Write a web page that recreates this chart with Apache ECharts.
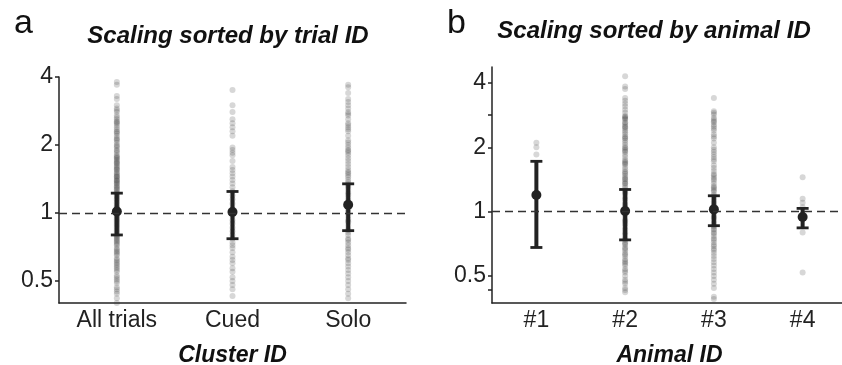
<!DOCTYPE html>
<html>
<head>
<meta charset="utf-8">
<script src="https://cdn.jsdelivr.net/npm/echarts@6/dist/echarts.min.js"></script>
<style>html,body{margin:0;padding:0;background:#fff;}#c{width:842px;height:365px;}</style>
</head>
<body>
<div id="c"></div>
<script>
// ---- Data ----
const catsA = ['All trials', 'Cued', 'Solo'];
const catsB = ['#1', '#2', '#3', '#4'];
const yTickLabels = [0.5, 1, 2, 4];

const allTrials = [3.8, 3.7, 3.3, 3.2, 3.0, 2.9, 2.8, 2.7, 2.65, 2.6, 2.55, 2.5, 2.45, 2.4, 2.35, 2.3, 2.25, 2.2, 2.15, 2.1, 2.05, 2.0, 1.95, 1.9, 1.85, 1.8, 1.78, 1.75, 1.72, 1.7, 1.68, 1.65, 1.62, 1.6, 1.58, 1.55, 1.52, 1.5, 1.48, 1.45, 1.44, 1.42, 1.4, 1.38, 1.36, 1.35, 1.33, 1.31, 1.3, 1.28, 1.25, 1.23, 1.22, 1.2, 1.18, 1.16, 1.15, 1.14, 1.12, 1.1, 1.08, 1.07, 1.06, 1.04, 1.03, 1.02, 1.0, 0.99, 0.98, 0.96, 0.95, 0.94, 0.92, 0.91, 0.9, 0.88, 0.87, 0.86, 0.85, 0.83, 0.82, 0.81, 0.8, 0.78, 0.77, 0.76, 0.75, 0.73, 0.72, 0.7, 0.69, 0.68, 0.66, 0.65, 0.63, 0.62, 0.61, 0.6, 0.58, 0.57, 0.56, 0.55, 0.53, 0.52, 0.5, 0.49, 0.47, 0.46, 0.44, 0.42, 0.4, 0.38, 0.37, 2.85, 2.52, 2.28, 2.12, 1.98, 1.88, 1.76, 1.66, 1.56, 1.46, 1.39, 1.27, 1.19, 1.11, 1.05, 1.01, 0.97, 0.93, 0.89, 0.84, 0.79, 0.74, 0.67, 0.59, 0.51, 0.45];
const cued = [3.5, 3.0, 2.8, 2.6, 2.5, 2.4, 2.3, 2.2, 1.95, 1.9, 1.85, 1.8, 1.7, 1.6, 1.55, 1.5, 1.45, 1.4, 1.35, 1.3, 1.25, 1.2, 1.15, 1.1, 1.05, 1.0, 0.97, 0.93, 0.9, 0.86, 0.83, 0.8, 0.77, 0.74, 0.72, 0.7, 0.67, 0.64, 0.62, 0.6, 0.57, 0.55, 0.52, 0.5, 0.48, 0.46, 0.43, 0.37];
const solo = [3.7, 3.6, 3.4, 3.2, 3.1, 3.0, 2.9, 2.8, 2.7, 2.6, 2.5, 2.45, 2.4, 2.3, 2.2, 2.1, 2.05, 2.0, 1.95, 1.9, 1.85, 1.8, 1.75, 1.7, 1.65, 1.6, 1.55, 1.5, 1.47, 1.44, 1.4, 1.37, 1.34, 1.3, 1.27, 1.24, 1.2, 1.17, 1.14, 1.1, 1.07, 1.04, 1.0, 0.97, 0.94, 0.91, 0.88, 0.85, 0.82, 0.8, 0.77, 0.74, 0.72, 0.7, 0.67, 0.65, 0.62, 0.6, 0.58, 0.56, 0.54, 0.52, 0.5, 0.48, 0.46, 0.44, 0.42, 0.37, 2.75, 2.35, 1.88, 1.52, 1.32, 1.22, 1.12, 1.02, 0.92, 0.84, 0.76, 0.69, 0.63];

const animal1 = [2.1, 2.0, 1.85];
const animal2 = [4.3, 3.85, 3.75, 3.4, 3.3, 3.2, 3.1, 3.0, 2.9, 2.8, 2.75, 2.72, 2.7, 2.62, 2.6, 2.55, 2.5, 2.45, 2.4, 2.35, 2.3, 2.25, 2.2, 2.15, 2.1, 2.05, 2.0, 1.95, 1.92, 1.9, 1.85, 1.8, 1.75, 1.7, 1.68, 1.66, 1.62, 1.58, 1.54, 1.5, 1.47, 1.44, 1.42, 1.41, 1.38, 1.35, 1.32, 1.29, 1.26, 1.25, 1.23, 1.2, 1.17, 1.15, 1.14, 1.11, 1.08, 1.06, 1.05, 1.02, 1.0, 0.98, 0.97, 0.95, 0.92, 0.9, 0.88, 0.87, 0.85, 0.82, 0.8, 0.79, 0.78, 0.76, 0.74, 0.72, 0.71, 0.7, 0.68, 0.66, 0.64, 0.63, 0.62, 0.6, 0.58, 0.57, 0.56, 0.54, 0.52, 0.5, 0.48, 0.47, 0.46, 0.44, 0.43, 0.42, 2.78, 2.48, 2.22, 1.98, 1.72, 1.52, 1.36, 1.22, 1.09, 0.99, 0.91, 0.83, 0.75, 0.67, 0.59, 0.53];
const animal3 = [3.4, 2.95, 2.9, 2.85, 2.75, 2.7, 2.65, 2.55, 2.5, 2.45, 2.4, 2.3, 2.2, 2.1, 2.0, 1.95, 1.9, 1.85, 1.8, 1.72, 1.65, 1.6, 1.55, 1.5, 1.48, 1.45, 1.4, 1.36, 1.32, 1.3, 1.28, 1.24, 1.2, 1.18, 1.16, 1.12, 1.1, 1.09, 1.06, 1.04, 1.03, 1.0, 0.99, 0.97, 0.94, 0.93, 0.91, 0.88, 0.86, 0.85, 0.82, 0.8, 0.79, 0.77, 0.74, 0.72, 0.7, 0.69, 0.67, 0.64, 0.62, 0.6, 0.58, 0.56, 0.54, 0.52, 0.5, 0.48, 0.46, 0.44, 0.4, 0.39, 2.62, 2.25, 1.76, 1.42, 1.26, 1.14, 1.07, 1.01, 0.95, 0.89, 0.83, 0.75, 0.66];
const animal4 = [1.45, 1.15, 1.1, 1.05, 0.97, 0.93, 0.8, 0.52];

const meanA = [1.017, 1.01, 1.088];
const lowA = [0.80, 0.77, 0.836];
const highA = [1.225, 1.246, 1.347];
const meanB = [1.196, 1.007, 1.025, 0.945];
const lowB = [0.68, 0.738, 0.86, 0.84];
const highB = [1.72, 1.27, 1.187, 1.036];

// ---- Build ----
const FONT = '"Liberation Sans", Arial, sans-serif';
const INK = '#222';
function strip(groups) {
  const out = [];
  groups.forEach((g, i) => g.forEach(v => out.push([i, v])));
  return out;
}
function errData(low, high) { return low.map((l, i) => [i, l, high[i]]); }
function meanData(m) { return m.map((v, i) => [i, v]); }

function renderErr(params, api) {
  const x = api.value(0);
  const p1 = api.coord([x, api.value(1)]);
  const p2 = api.coord([x, api.value(2)]);
  const cap = 6;
  const st = { stroke: INK, lineWidth: 4 };
  const cs = { stroke: INK, lineWidth: 2.8 };
  return {
    type: 'group',
    children: [
      { type: 'line', shape: { x1: p1[0], y1: p1[1], x2: p2[0], y2: p2[1] }, style: st },
      { type: 'line', shape: { x1: p1[0] - cap, y1: p1[1], x2: p1[0] + cap, y2: p1[1] }, style: cs },
      { type: 'line', shape: { x1: p2[0] - cap, y1: p2[1], x2: p2[0] + cap, y2: p2[1] }, style: cs }
    ]
  };
}

function xAxis(gi, cats, name) {
  return {
    type: 'category', gridIndex: gi, data: cats, boundaryGap: true,
    name: name, nameLocation: 'middle', nameGap: 41,
    nameTextStyle: { fontFamily: FONT, fontSize: 23, fontWeight: 'bold', fontStyle: 'italic', color: '#111' },
    axisLine: { lineStyle: { color: INK, width: 1.5 } },
    axisTick: { alignWithLabel: true, length: 4, lineStyle: { color: INK, width: 1.5 } },
    axisLabel: { fontFamily: FONT, fontSize: 23, color: INK, margin: 6 },
    splitLine: { show: false }
  };
}
function yAxis(gi, min, max, ticks) {
  return {
    type: 'log', logBase: 2, gridIndex: gi, min: min, max: max,
    axisLine: { show: true, lineStyle: { color: INK, width: 1.5 } },
    axisTick: { show: true, length: 4, customValues: ticks, lineStyle: { color: INK, width: 1.5 } },
    axisLabel: { fontFamily: FONT, fontSize: 23, color: INK, margin: 6, customValues: yTickLabels,
      formatter: v => String(Math.round(v * 100) / 100) },
    splitLine: { show: false }
  };
}

const stripStyle = { color: '#383838', opacity: 0.2 };
const dash = { color: '#333', width: 1.4, type: [8, 5] };
const option = {
  animation: false,
  backgroundColor: '#fff',
  title: [
    { text: 'a', left: 9, top: 2, textStyle: { fontFamily: FONT, fontSize: 34, fontWeight: 'normal', color: '#111' } },
    { text: 'b', left: 442, top: 2, textStyle: { fontFamily: FONT, fontSize: 34, fontWeight: 'normal', color: '#111' } },
    { text: 'Scaling sorted by trial ID', left: 223, textAlign: 'center', top: 19, textStyle: { fontFamily: FONT, fontSize: 24, fontWeight: 'bold', fontStyle: 'italic', color: '#111' } },
    { text: 'Scaling sorted by animal ID', left: 649, textAlign: 'center', top: 14, textStyle: { fontFamily: FONT, fontSize: 24, fontWeight: 'bold', fontStyle: 'italic', color: '#111' } }
  ],
  grid: [
    { left: 59, top: 77, width: 347, height: 226, outerBoundsMode: 'none', containLabel: false },
    { left: 492, top: 67, width: 355, height: 236, outerBoundsMode: 'none', containLabel: false }
  ],
  xAxis: [xAxis(0, catsA, 'Cluster ID'), xAxis(1, catsB, 'Animal ID')],
  yAxis: [yAxis(0, 0.4, 4, [0.5, 1, 2, 4]), yAxis(1, 0.374, 4.75, [0.43, 0.5, 1, 2, 2.83, 4])],
  series: [
    { type: 'scatter', xAxisIndex: 0, yAxisIndex: 0, data: strip([allTrials, cued, solo]), symbolSize: 6, itemStyle: stripStyle, z: 1 },
    { type: 'scatter', xAxisIndex: 1, yAxisIndex: 1, data: strip([animal1, animal2, animal3, animal4]), symbolSize: 6, itemStyle: stripStyle, z: 1 },
    { type: 'custom', xAxisIndex: 0, yAxisIndex: 0, data: errData(lowA, highA), renderItem: renderErr, z: 3 },
    { type: 'custom', xAxisIndex: 1, yAxisIndex: 1, data: errData(lowB, highB), renderItem: renderErr, z: 3 },
    { type: 'scatter', xAxisIndex: 0, yAxisIndex: 0, data: meanData(meanA), symbolSize: 10, itemStyle: { color: INK, opacity: 1 }, z: 4,
      markLine: { silent: true, symbol: 'none', label: { show: false }, lineStyle: dash, data: [{ yAxis: 1 }] } },
    { type: 'scatter', xAxisIndex: 1, yAxisIndex: 1, data: meanData(meanB), symbolSize: 10, itemStyle: { color: INK, opacity: 1 }, z: 4,
      markLine: { silent: true, symbol: 'none', label: { show: false }, lineStyle: dash, data: [{ yAxis: 1 }] } }
  ]
};
const chart = echarts.init(document.getElementById('c'), null, { renderer: 'canvas' });
chart.setOption(option);
</script>
</body>
</html>
